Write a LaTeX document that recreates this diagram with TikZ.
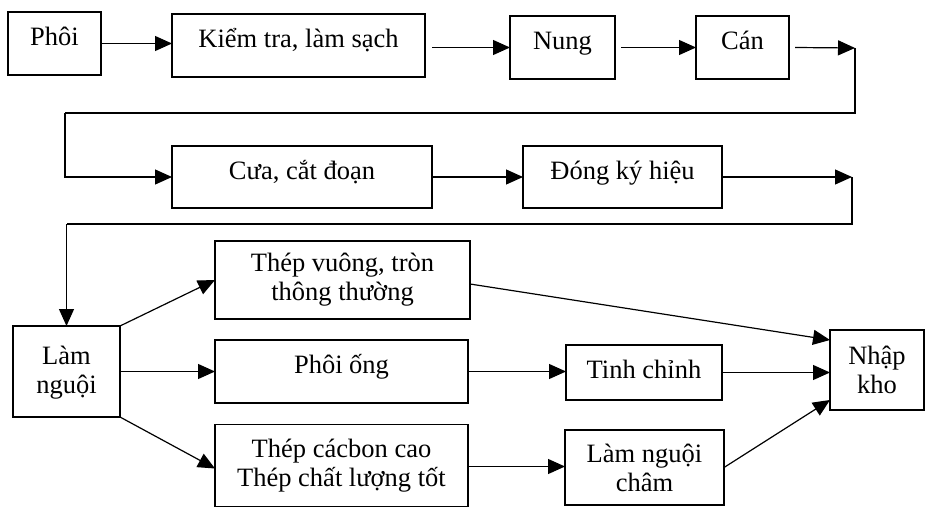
\documentclass[tikz,border=0pt]{standalone}
\usepackage{fontspec}
\setmainfont{Liberation Serif}
\usepackage{tikz}
\usetikzlibrary{arrows.meta}
\usetikzlibrary{positioning}
\usetikzlibrary{calc}
\tikzset{
	box/.style={draw=black, rectangle, inner sep=0pt, outer sep=0pt, align=center,
		font=\fontsize{26.5}{29}\selectfont},
	onebox/.style={box, text height=14pt, text depth=10pt},
	flow/.style={draw=black, -{Triangle[length=17pt,width=15pt]}},
	flownoarrow/.style={draw=black},
}

\begin{document}
\begin{tikzpicture}[line width=1.2pt, x=1pt, y=-1pt]
	\useasboundingbox (0,0) rectangle (925,508);
	% first row
	\node[onebox, minimum width=93pt, minimum height=63pt] (phoi) at (54.5,43.5) {Phôi};
	\node[onebox, minimum width=253pt, minimum height=63pt] (kiemtra) at (298.5,45.5) {Kiểm tra, làm sạch};
	\node[onebox, minimum width=105pt, minimum height=63pt] (nung) at (562.5,47.5) {Nung};
	\node[onebox, minimum width=93pt, minimum height=63pt] (can) at (742.5,47.5) {Cán};
	% second row
	\node[onebox, minimum width=260pt, minimum height=62pt] (cua) at (302,177) {Cưa, cắt đoạn};
	\node[onebox, minimum width=199pt, minimum height=62pt] (dong) at (622.5,177) {Đóng ký hiệu};
	% branches
	\node[box, text depth=4pt, minimum width=107pt, minimum height=91pt] (lamnguoi) at (66.5,371.5) {Làm\\nguội};
	\node[box, minimum width=255pt, minimum height=78pt] (thepvuong) at (342.5,280) {Thép vuông, tròn\\thông thường};
	\node[onebox, minimum width=253pt, minimum height=63pt] (phoiong) at (341.5,371.5) {Phôi ống};
	\node[box, minimum width=253pt, minimum height=82pt] (thepcb) at (341.5,465.5) {Thép cácbon cao\\Thép chất lượng tốt};
	\node[box, text height=16pt, text depth=4pt, minimum width=156pt, minimum height=55pt] (tinhchinh) at (644,372.5) {Tinh chỉnh};
	\node[box, minimum width=159pt, minimum height=75pt] (lncham) at (644.5,467.5) {Làm nguội\\châm};
	\node[box, minimum width=94pt, minimum height=80pt] (nhapkho) at (877,370) {Nhập\\kho};
	% turning points
	\coordinate (t1) at (855,48);
	\coordinate (t2) at (855,113);
	\coordinate (t3) at (65,113);
	\coordinate (t4) at (852,177);
	\coordinate (t5) at (852,224);
	\coordinate (t6) at (66.5,224);

	\draw[flow] (phoi.east) -- (phoi.east -| kiemtra.west);
	\draw[flow] ([xshift=7pt]kiemtra.east |- nung.west) -- (nung.west);
	\draw[flow] ([xshift=6pt]nung.east) -- (can.west);
	\draw[flow] ([xshift=6pt]can.east) -- (t1);
	\draw[flownoarrow] (t1) -- (t2) -- (t3);
	\draw[flow] (t3) |- (cua.west);
	\draw[flow] (cua.east) -- (dong.west);
	\draw[flow] (dong.east) -- (t4);
	\draw[flownoarrow] (t4) -- (t5) -- (t6);
	\draw[flow] (t6) -- (lamnguoi.north);
	\draw[flow] (lamnguoi.north east) -- (thepvuong.west);
	\draw[flow] (lamnguoi.east) -- (lamnguoi.east -| phoiong.west);
	\draw[flow] (lamnguoi.south east) -- ([yshift=-3pt]thepcb.west);
	\draw[flow] (phoiong.east) -- (phoiong.east -| tinhchinh.west);
	\draw[flow] ([yshift=-1pt]thepcb.east) -- ([yshift=-1pt]thepcb.east -| lncham.west);
	\draw[flow] ([yshift=-4pt]thepvuong.east) -- ([yshift=-10pt]nhapkho.north west);
	\draw[flow] (tinhchinh.east) -- (tinhchinh.east -| nhapkho.west);
	\draw[flow] (lncham.east) -- ([yshift=10pt]nhapkho.south west);
\end{tikzpicture}
\end{document}
